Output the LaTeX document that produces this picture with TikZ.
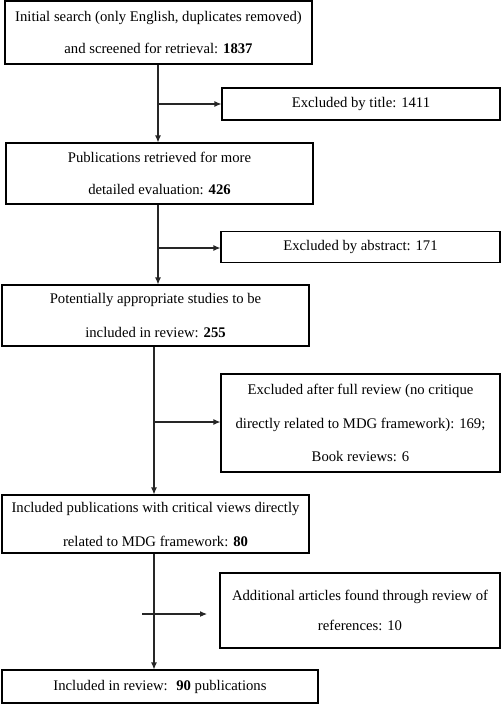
\documentclass[tikz,border=0pt]{standalone}
\usepackage{fontspec}
\setmainfont{Liberation Serif}
\usetikzlibrary{arrows.meta}
\tikzset{
  box/.style={draw=black, line width=1.1pt, inner sep=0pt, align=center,
    font=\fontsize{14.7}{32}\selectfont},
  conn/.style={draw=black!85, line width=1.1pt},
  arr/.style={conn, -{Latex[length=7pt,width=6pt]}}
}
\begin{document}
\begin{tikzpicture}[x=1pt,y=-1pt]
\useasboundingbox (0,0) rectangle (501,704);
\node[box, minimum width=307, minimum height=63] (b1) at (158.5,32.5)
  {Initial search (only English, duplicates removed)\\and screened for retrieval: \textbf{1837}};
\node[box, minimum width=278, minimum height=32] (e1) at (361,104)
  {Excluded by title: 1411};
\node[box, minimum width=307, minimum height=61] (b2) at (159.5,173.5)
  {Publications retrieved for more\\detailed evaluation: \textbf{426}};
\node[box, minimum width=279, minimum height=31] (e2) at (360.5,247)
  {Excluded by abstract: 171};
\node[box, minimum width=307, minimum height=61, font=\fontsize{14.7}{34}\selectfont] (b3) at (155.5,315.5)
  {Potentially appropriate studies to be\\included in review: \textbf{255}};
\node[box, minimum width=279, minimum height=98, font=\fontsize{14.7}{33.5}\selectfont] (e3) at (360.5,423)
  {Excluded after full review (no critique\\directly related to MDG framework): 169;\\Book reviews: 6};
\node[box, minimum width=307, minimum height=58, font=\fontsize{14.7}{34}\selectfont] (b4) at (155.5,524)
  {Included publications with critical views directly\\related to MDG framework: \textbf{80}};
\node[box, minimum width=280, minimum height=75, font=\fontsize{14.7}{30}\selectfont] (e4) at (360,610.5)
  {Additional articles found through review of\\references: 10};
\node[box, minimum width=316, minimum height=33] (b5) at (160,686.5)
  {Included in review:~ \textbf{90} publications};

\coordinate (j1) at (158,104);
\coordinate (j2) at (158,248);
\coordinate (j3) at (154,422);
\coordinate (j4) at (154,614);
\coordinate (s4) at (142,614);
\coordinate (t4) at (207,614);

\draw[conn] (b1.south -| j1) -- (j1);
\draw[arr] (j1) -- (b2.north -| j1);
\draw[arr] (j1) -- (e1.west |- j1);

\draw[conn] (b2.south -| j2) -- (j2);
\draw[arr] (j2) -- (b3.north -| j2);
\draw[arr] (j2) -- (e2.west |- j2);

\draw[conn] (b3.south -| j3) -- (j3);
\draw[arr] (j3) -- (b4.north -| j3);
\draw[arr] (j3) -- (e3.west |- j3);

\draw[arr] (b4.south -| j4) -- (b5.north -| j4);
\draw[arr] (s4) -- (t4);
\end{tikzpicture}
\end{document}
